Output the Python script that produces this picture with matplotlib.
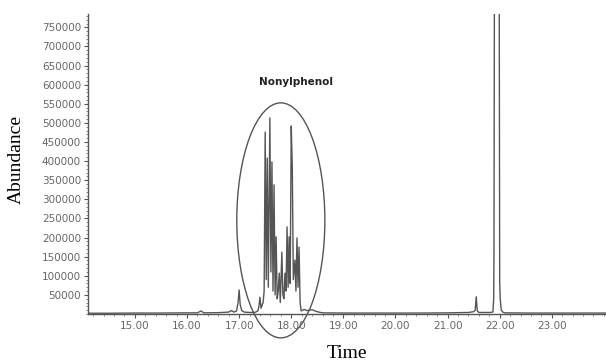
import matplotlib
matplotlib.use('Agg')
import matplotlib.pyplot as plt
from matplotlib.patches import Ellipse
from matplotlib.ticker import MultipleLocator

# chromatogram trace (time in min, abundance)
times = [14.10, 14.5, 15.0, 15.5, 16.0, 16.2, 16.27, 16.32, 16.6, 16.8, 16.85,
         16.9, 16.95, 16.98, 17.00, 17.02, 17.05, 17.1, 17.2, 17.30, 17.36,
         17.38, 17.40, 17.42, 17.46, 17.48, 17.50, 17.52, 17.54, 17.56, 17.59,
         17.61, 17.63, 17.65, 17.67, 17.69, 17.71, 17.73, 17.75, 17.77, 17.79,
         17.82, 17.84, 17.86, 17.88, 17.90, 17.92, 17.94, 17.96, 17.98, 18.00,
         18.02, 18.04, 18.07, 18.09, 18.11, 18.13, 18.15, 18.17, 18.19, 18.25,
         18.30, 18.40, 18.50, 18.60, 19.0, 19.5, 20.0, 20.5, 21.0, 21.4, 21.5,
         21.53, 21.55, 21.57, 21.6, 21.8, 21.87, 21.885, 21.89, 21.90, 21.99,
         22.00, 22.01, 22.03, 22.06, 22.1, 22.5, 23.0, 23.5, 24.04]
abundance = [2000, 2000, 2500, 2500, 3000, 3000, 8000, 3000, 3500, 5000, 9000,
             5000, 8000, 30000, 63000, 25000, 9000, 5000, 4000, 4000, 8000,
             20000, 44000, 15000, 30000, 60000, 476000, 90000, 408000, 70000,
             513000, 110000, 398000, 60000, 338000, 50000, 202000, 40000, 60000,
             107000, 30000, 162000, 50000, 40000, 107000, 60000, 228000, 70000,
             202000, 80000, 492000, 385000, 90000, 141000, 60000, 199000, 70000,
             175000, 30000, 8000, 12000, 9000, 11000, 6000, 3000, 2500, 2500,
             2500, 2500, 3000, 4000, 6000, 10000, 45000, 8000, 4000, 4000, 5000,
             40000, 150000, 950000, 950000, 85000, 40000, 10000, 5000, 3000,
             2500, 2500, 2500, 2500]

y_ticks = list(range(50000, 800000, 50000))
x_ticks = [15, 16, 17, 18, 19, 20, 21, 22, 23]

fig = plt.figure(figsize=(6.06, 3.61), dpi=100)
ax = fig.add_axes([88 / 606, 47 / 361, 518 / 606, 300 / 361])

ax.plot(times, abundance, color='#555555', lw=1.0)

ax.set_xlim(14.10, 24.04)
ax.set_ylim(0, 785000)

for side in ('top', 'right'):
    ax.spines[side].set_visible(False)
for side in ('left', 'bottom'):
    ax.spines[side].set_color('#555555')
    ax.spines[side].set_linewidth(1.0)

ax.set_yticks(y_ticks)
ax.set_yticklabels([str(v) for v in y_ticks])
ax.set_xticks(x_ticks)
ax.set_xticklabels(['%.2f' % v for v in x_ticks])
ax.xaxis.set_minor_locator(MultipleLocator(0.2))
ax.yaxis.set_minor_locator(MultipleLocator(10000))
ax.tick_params(axis='both', which='major', labelsize=7.5, labelcolor='#666666',
               color='#555555', length=3, width=0.8, pad=2)
ax.tick_params(axis='both', which='minor', color='#777777', length=1.5,
               width=0.6)

# ellipse around the nonylphenol isomers
ell = Ellipse((17.80, 245000), 1.69, 615000, fill=False, edgecolor='#555555',
              lw=1.0, clip_on=False)
ax.add_patch(ell)
ax.text(18.10, 607000, 'Nonylphenol', ha='center', va='center', fontsize=7.5,
        fontweight='bold', color='#222222')

fig.text(16 / 606, 1 - 160 / 361, 'Abundance', rotation=90, ha='center',
         va='center', fontsize=14, family='Liberation Serif')
fig.text(347 / 606, 1 - 354 / 361, 'Time', ha='center', va='center',
         fontsize=14, family='Liberation Serif')

fig.savefig('out.png', dpi=100)
